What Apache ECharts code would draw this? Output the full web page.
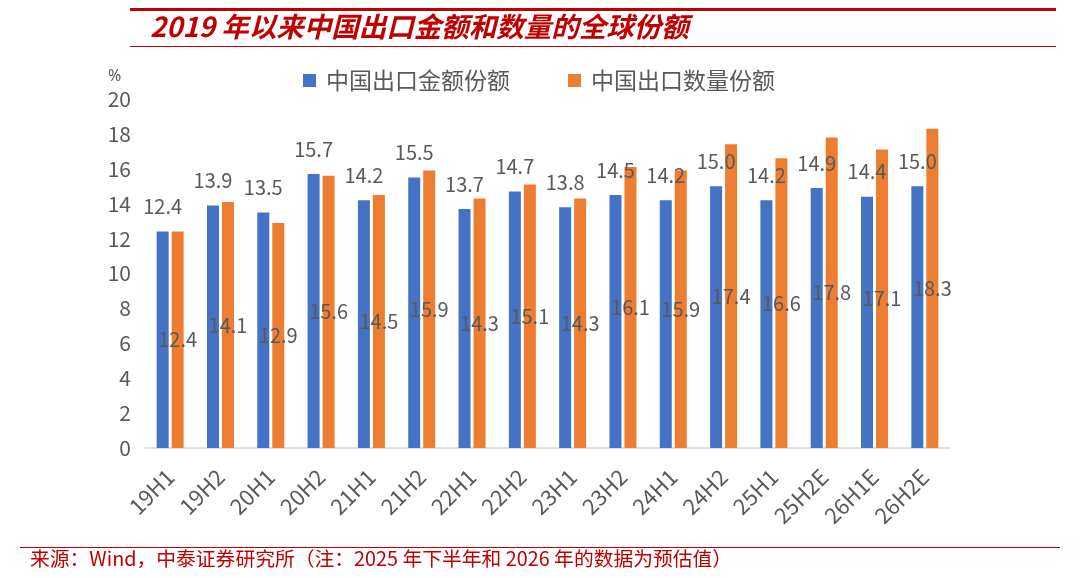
<!DOCTYPE html>
<html><head><meta charset="utf-8">
<script src="https://cdn.jsdelivr.net/npm/echarts@6/dist/echarts.min.js"></script>
<style>html,body{margin:0;padding:0;background:#fff}#c{width:1080px;height:578px}</style>
</head><body><div id="c"></div>
<script>
const categories = ['19H1','19H2','20H1','20H2','21H1','21H2','22H1','22H2','23H1','23H2','24H1','24H2','25H1','25H2E','26H1E','26H2E'];
const valueShare = [12.4,13.9,13.5,15.7,14.2,15.5,13.7,14.7,13.8,14.5,14.2,15.0,14.2,14.9,14.4,15.0];
const volumeShare = [12.4,14.1,12.9,15.6,14.5,15.9,14.3,15.1,14.3,16.1,15.9,17.4,16.6,17.8,17.1,18.3];
const seriesNames = ['中国出口金额份额','中国出口数量份额'];
const yTicks = {min:0, max:20, interval:2};

const FONT = '"Noto Sans CJK SC","Noto Sans",sans-serif';
const chart = echarts.init(document.getElementById('c'));
chart.setOption({
  animation:false,
  textStyle:{fontFamily:FONT},
  graphic:[
    {type:'rect', shape:{x:130,y:8,width:926,height:3}, style:{fill:'#C00000'}},
    {type:'rect', shape:{x:130,y:46,width:926,height:1}, style:{fill:'#C00000'}},
    {type:'text', left:150, top:13, style:{text:'2019 年以来中国出口金额和数量的全球份额', fill:'#C00000', font:'italic bold 27.5px "Noto Sans CJK SC", sans-serif'}},
    {type:'text', left:108, top:68, style:{text:'%', fill:'#595959', font:'16px "Noto Sans", sans-serif'}},
    {type:'rect', shape:{x:20,y:547,width:1040,height:1}, style:{fill:'#C00000'}},
    {type:'text', left:30, top:549, style:{text:'来源：Wind，中泰证券研究所（注：2025 年下半年和 2026 年的数据为预估值）', fill:'#C00000', font:'19.8px "Noto Sans CJK SC", sans-serif'}}
  ],
  legend:{
    top:64, left:298, itemWidth:13, itemHeight:13, itemGap:58,
    icon:'rect',
    textStyle:{fontSize:23, color:'#595959', fontFamily:FONT, padding:[0,0,0,5]},
    data:seriesNames
  },
  grid:{left:145, right:130, top:99, bottom:130},
  xAxis:{
    type:'category', data:categories,
    axisLine:{lineStyle:{color:'#d9d9d9', width:1.5}},
    axisTick:{show:false},
    axisLabel:{rotate:45, fontSize:22, color:'#595959', margin:25, interval:0}
  },
  yAxis:{
    type:'value', min:yTicks.min, max:yTicks.max, interval:yTicks.interval,
    splitLine:{show:false}, axisLine:{show:false}, axisTick:{show:false},
    axisLabel:{fontSize:21, color:'#595959', margin:14}
  },
  series:[
    {name:seriesNames[0], type:'bar', data:valueShare, barWidth:12, barGap:'25%',
     itemStyle:{color:'#4472C4'},
     label:{show:true, position:'top', distance:15, fontSize:20, color:'#595959', formatter:p=>p.value.toFixed(1)}},
    {name:seriesNames[1], type:'bar', data:volumeShare, barWidth:12,
     itemStyle:{color:'#ED7D31'},
     label:{show:true, position:'inside', fontSize:20, color:'#595959', formatter:p=>p.value.toFixed(1)}}
  ]
});
</script></body></html>
